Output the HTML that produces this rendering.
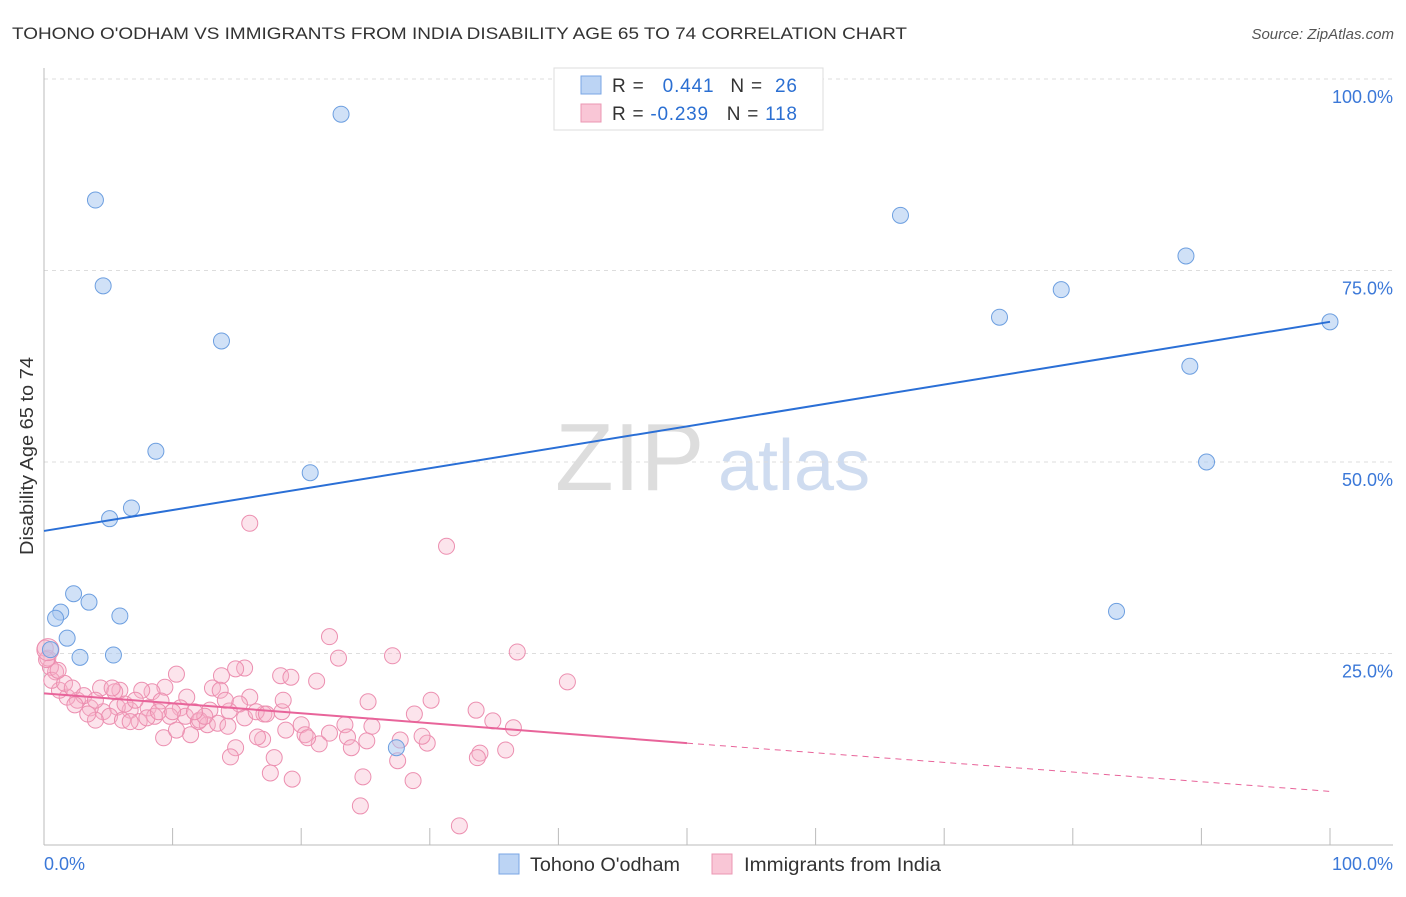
<!DOCTYPE html>
<html><head><meta charset="utf-8">
<style>
body{margin:0;background:#fff;font-family:"Liberation Sans",sans-serif;}
svg text{font-family:"Liberation Sans",sans-serif;}
</style></head>
<body>
<svg id="chart" width="1406" height="892" viewBox="0 0 1406 892">
<text x="12" y="39" font-size="17" fill="#333" textLength="895" lengthAdjust="spacingAndGlyphs">TOHONO O'ODHAM VS IMMIGRANTS FROM INDIA DISABILITY AGE 65 TO 74 CORRELATION CHART</text>
<text x="1394" y="39" font-size="15" fill="#555" font-style="italic" text-anchor="end">Source: ZipAtlas.com</text>
<text x="0" y="0" transform="translate(33,456) rotate(-90)" font-size="18" fill="#333" text-anchor="middle" textLength="198" lengthAdjust="spacingAndGlyphs">Disability Age 65 to 74</text>
<text x="555" y="490" font-size="96" fill="#ddd" font-family="Liberation Serif">ZIP</text>
<text x="718" y="490" font-size="72" fill="#cfdcf0">atlas</text>
<g id="grid"></g>
<g id="axes"></g>
<g id="pinkpts"></g>
<g id="bluepts"></g>
<g id="lines"></g>
<g>
<rect x="554" y="68" width="269" height="62" fill="#fff" stroke="#ddd"/>
<rect x="581" y="76" width="20" height="18" fill="#bcd4f4" stroke="#7aa6e4"/>
<rect x="581" y="104" width="20" height="18" fill="#f9c6d6" stroke="#eb97b3"/>
<text x="612" y="92" font-size="19" fill="#333" textLength="185" lengthAdjust="spacing">R = <tspan fill="#2b6fd2" dx="12">0.441</tspan><tspan fill="#333" dx="16">N = </tspan><tspan fill="#2b6fd2" dx="6">26</tspan></text>
<text x="612" y="120" font-size="19" fill="#333" textLength="185" lengthAdjust="spacing">R = <tspan fill="#2b6fd2">-0.239</tspan><tspan fill="#333" dx="18">N = </tspan><tspan fill="#2b6fd2">118</tspan></text>
</g>
<g>
<rect x="499" y="854" width="20" height="20" fill="#bcd4f4" stroke="#7aa6e4"/>
<text x="530" y="871" font-size="19" fill="#333" textLength="150" lengthAdjust="spacingAndGlyphs">Tohono O'odham</text>
<rect x="712" y="854" width="20" height="20" fill="#f9c6d6" stroke="#eb97b3"/>
<text x="744" y="871" font-size="19" fill="#333" textLength="197" lengthAdjust="spacingAndGlyphs">Immigrants from India</text>
</g>
</svg>
<script>
const yTicks=[25,50,75,100];
const yTickLabels=["25.0%","50.0%","75.0%","100.0%"];
const blueX=[23.1,4.0,4.6,13.8,8.7,20.7,6.8,5.1,2.3,1.3,3.5,0.9,5.9,1.8,2.8,5.4,0.5,27.4,66.6,74.3,79.1,88.8,89.1,90.4,83.4,100];
const blueY=[95.4,84.2,73.0,65.8,51.4,48.6,44.0,42.6,32.8,30.4,31.7,29.6,29.9,27.0,24.5,24.8,25.5,12.7,82.2,68.9,72.5,76.9,62.5,50.0,30.5,68.3];
const pinkX=[16.0,31.3,22.2,36.8,27.1,40.7,22.9,15.6,14.9,10.3,18.4,21.2,19.2,13.8,13.1,9.4,8.4,4.4,5.9,25.2,30.1,28.8,33.6,34.9,36.5,23.4,20.0,18.5,17.1,16.0,15.2,14.4,12.9,11.1,10.6,9.1,8.1,6.7,5.7,4.6,3.6,2.6,1.8,1.2,0.9,0.5,0.3,0.6,1.6,2.2,3.1,4.0,5.1,6.1,7.4,8.6,9.8,11.0,12.0,12.7,13.5,14.3,15.6,16.5,17.3,18.8,20.3,22.2,23.6,25.1,27.7,29.8,33.9,35.9,14.9,17.0,17.9,14.5,17.6,19.3,28.7,24.8,27.5,24.6,32.3,9.3,8.0,6.7,11.4,10.3,12.1,7.6,6.3,5.5,4.0,3.4,2.4,1.1,0.1,0.2,5.3,7.1,8.9,13.7,14.1,12.5,11.7,10.0,16.6,21.4,23.9,33.7,18.6,20.5,25.5,29.4,0.3];
const pinkY=[42.0,39.0,27.2,25.2,24.7,21.3,24.4,23.1,23.0,22.3,22.1,21.4,21.9,22.1,20.5,20.6,20.0,20.5,20.2,18.7,18.9,17.1,17.6,16.2,15.3,15.7,15.7,17.4,17.1,19.3,18.4,17.5,17.6,19.3,17.9,18.8,17.9,17.6,18.0,17.4,17.9,18.9,19.3,20.2,22.6,23.2,24.4,21.5,21.1,20.5,19.5,18.9,16.8,16.3,16.1,16.8,16.8,16.8,16.1,15.7,15.9,15.5,16.6,17.4,17.1,15.0,14.4,14.6,14.1,13.6,13.7,13.3,12.0,12.4,12.7,13.8,11.4,11.5,9.4,8.6,8.4,8.9,11.0,5.1,2.5,14.0,16.6,16.1,14.4,15.0,16.3,20.2,18.4,20.0,16.3,17.1,18.3,22.8,25.7,24.2,20.5,18.9,17.4,20.2,18.9,16.8,17.4,17.4,14.1,13.2,12.7,11.4,18.9,14.0,15.5,14.2,25.5];
const blueLine=[0,41.0,100,68.3];
const pinkLine=[0,19.8,50,13.3,100,7.0];

const NS="http://www.w3.org/2000/svg";
const X=v=>44+v*12.86;
const Y=v=>845-v*7.66;
function mk(tag,attrs,parent){const e=document.createElementNS(NS,tag);for(const k in attrs)e.setAttribute(k,attrs[k]);document.getElementById(parent).appendChild(e);return e;}

const g0=mk('line',{x1:44,x2:1393,y1:Y(100),y2:Y(100),stroke:'#ddd','stroke-dasharray':'4,4'},'grid');


yTicks.forEach((t,i)=>{
 const l=mk('line',{x1:44,x2:1393,y1:Y(t),y2:Y(t),stroke:'#ddd','stroke-dasharray':'4,4'},'grid');
 
 
 const tx=mk('text',{x:1393,y:Y(t)+24,'font-size':18,fill:'#3b78d8','text-anchor':'end'},'axes');
 tx.textContent=yTickLabels[i];
 
 
});
const ax=mk('line',{x1:44,x2:1393,y1:845,y2:845,stroke:'#bbb'},'axes');


const ay=mk('line',{x1:44,x2:44,y1:68,y2:845,stroke:'#bbb'},'axes');


for(let i=0;i<=10;i++){
 const t=mk('line',{x1:X(i*10),x2:X(i*10),y1:828,y2:845,stroke:'#bbb'},'axes');
 
 
}
const xl0=mk('text',{x:44,y:870,'font-size':18,fill:'#3b78d8'},'axes');xl0.textContent='0.0%';


const xl1=mk('text',{x:1393,y:870,'font-size':18,fill:'#3b78d8','text-anchor':'end'},'axes');xl1.textContent='100.0%';



pinkX.forEach((x,i)=>{
 const c=mk('circle',{cx:X(x),cy:Y(pinkY[i]),r:(i===pinkX.length-1)?11:8,fill:'rgba(246,178,200,0.35)',stroke:'#ec8fb0','stroke-width':1},'pinkpts');
 
 
});
blueX.forEach((x,i)=>{
 const c=mk('circle',{cx:X(x),cy:Y(blueY[i]),r:8,fill:'rgba(170,200,240,0.55)',stroke:'#6d9fe0','stroke-width':1},'bluepts');
 
 
});
const bl=mk('line',{x1:X(blueLine[0]),y1:Y(blueLine[1]),x2:X(blueLine[2]),y2:Y(blueLine[3]),stroke:'#2a6fd6','stroke-width':2},'lines');


const pl=mk('line',{x1:X(pinkLine[0]),y1:Y(pinkLine[1]),x2:X(pinkLine[2]),y2:Y(pinkLine[3]),stroke:'#e8649a','stroke-width':2},'lines');


const pd=mk('line',{x1:X(pinkLine[2]),y1:Y(pinkLine[3]),x2:X(pinkLine[4]),y2:Y(pinkLine[5]),stroke:'#e8649a','stroke-width':1,'stroke-dasharray':'6,5'},'lines');


</script>
</body></html>
